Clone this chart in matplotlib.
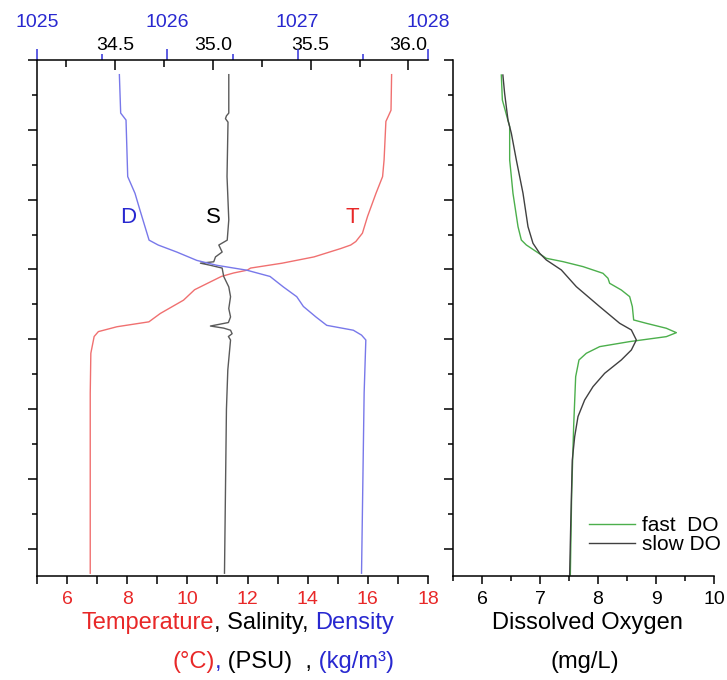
import matplotlib
matplotlib.use("Agg")
import matplotlib.pyplot as plt
from matplotlib.ticker import MultipleLocator, FormatStrFormatter

plt.rcParams['font.family'] = ['Liberation Sans', 'DejaVu Sans']

# --- CTD profile: temperature (degC) vs depth (m)
temp_depth = [2.1, 7.2, 8.8, 14.3, 16.7, 19.1, 22.4, 24.8, 26.0, 26.5, 27.0, 28.2, 29.1,
              29.8, 30.1, 30.5, 31.0, 32.0, 32.9, 34.4, 36.3, 37.5, 38.2, 38.9, 39.6,
              42.0, 47.7, 73.5]
temp = [16.79, 16.77, 16.60, 16.54, 16.49, 16.27, 15.99, 15.82, 15.60, 15.43, 15.10, 14.21,
        13.15, 12.10, 11.99, 11.54, 11.13, 10.66, 10.24, 9.87, 9.10, 8.72, 7.66, 7.04,
        6.90, 6.79, 6.77, 6.77]

# salinity (PSU)
sal_depth = [2.1, 7.6, 8.0, 8.4, 8.9, 16.7, 22.9, 25.8, 26.5, 27.5, 28.2, 28.9, 29.1, 29.4,
             29.8, 31.0, 32.5, 33.9, 35.6, 36.8, 37.6, 38.1, 38.4, 38.7, 39.2, 39.6, 40.1,
             44.4, 50.0, 73.5]
sal = [35.081, 35.081, 35.069, 35.064, 35.077, 35.072, 35.081, 35.073, 35.030, 35.047,
       35.013, 35.004, 34.936, 34.987, 35.047, 35.055, 35.081, 35.090, 35.081, 35.090,
       35.079, 34.987, 35.055, 35.090, 35.098, 35.079, 35.090, 35.076, 35.069, 35.059]

# density (kg/m3)
dens_depth = [2.1, 7.6, 8.6, 16.7, 19.1, 21.5, 23.9, 25.8, 26.5, 27.5, 28.7, 29.4, 30.1,
              31.0, 32.5, 33.9, 35.3, 36.8, 38.0, 38.7, 39.4, 40.1, 47.7, 73.5]
dens = [1025.632, 1025.642, 1025.683, 1025.696, 1025.752, 1025.790, 1025.829, 1025.860,
        1025.930, 1026.072, 1026.226, 1026.379, 1026.609, 1026.788, 1026.890, 1026.993,
        1027.044, 1027.140, 1027.223, 1027.427, 1027.490, 1027.523, 1027.510, 1027.490]

# dissolved oxygen (mg/L), slow sensor
slow_depth = [2.15, 4.77, 8.59, 10.50, 14.32, 19.09, 23.87, 26.25, 27.68, 28.64, 30.07,
              32.46, 35.32, 37.71, 38.66, 40.10, 41.53, 42.96, 44.87, 46.78, 48.69, 51.07,
              53.94, 57.28, 66.83, 73.75]
slow_do = [6.36, 6.39, 6.448, 6.506, 6.592, 6.707, 6.793, 6.879, 6.994, 7.109, 7.368,
           7.626, 8.029, 8.374, 8.575, 8.661, 8.575, 8.402, 8.115, 7.914, 7.770, 7.655,
           7.598, 7.557, 7.529, 7.511]

# dissolved oxygen (mg/L), fast sensor
fast_depth = [2.15, 5.73, 9.55, 14.32, 16.71, 19.09, 23.87, 25.78, 26.49, 27.45, 28.40,
              28.88, 29.59, 30.55, 31.26, 31.98, 32.94, 33.89, 35.32, 37.23, 37.71, 38.42,
              39.05, 39.62, 40.33, 41.05, 42.00, 42.96, 45.35, 52.51, 62.05, 73.75]
fast_do = [6.333, 6.351, 6.477, 6.477, 6.506, 6.534, 6.621, 6.678, 6.764, 6.937, 7.109,
           7.397, 7.741, 8.086, 8.172, 8.201, 8.402, 8.546, 8.592, 8.615, 8.833, 9.178,
           9.351, 9.178, 8.546, 8.029, 7.799, 7.672, 7.615, 7.580, 7.546, 7.523]

RED, BLUE, GREY = '#f07070', '#7878ea', '#5a5a5a'
RED_TXT, BLUE_TXT = '#e82828', '#2828d0'
DEPTH_MAX = 73.9
W, H = 727, 680

fig = plt.figure(figsize=(W / 100, H / 100), dpi=100)


def style_depth_axis(a):
    a.set_ylim(DEPTH_MAX, 0)
    a.yaxis.set_major_locator(MultipleLocator(10))
    a.yaxis.set_minor_locator(MultipleLocator(5))
    a.tick_params(axis='y', which='major', direction='out', length=6.5, width=1.1,
                  labelleft=False)
    a.tick_params(axis='y', which='minor', direction='out', length=3.6, width=1.1)
    for s in ('top', 'right'):
        a.spines[s].set_visible(False)
    for s in ('left', 'bottom'):
        a.spines[s].set_linewidth(1.1)


# ---------------- left panel: T / S / density
ax = fig.add_axes([37 / W, 1 - 576 / H, 391 / W, 516 / H])
ax.plot(temp, temp_depth, color=RED, lw=1)
ax.set_xlim(5, 18)
ax.xaxis.set_major_locator(MultipleLocator(2))
ax.xaxis.set_minor_locator(MultipleLocator(1))
ax.tick_params(axis='x', which='both', direction='out', length=5.8, width=1.1,
               labelsize=14, labelcolor=RED_TXT, pad=5)
style_depth_axis(ax)

ax_s = ax.twiny()
ax_s.plot(sal, sal_depth, color=GREY, lw=1)
ax_s.set_xlim(34.1, 36.1)
ax_s.xaxis.set_major_locator(MultipleLocator(0.5))
ax_s.xaxis.set_minor_locator(MultipleLocator(0.25))
ax_s.xaxis.set_major_formatter(FormatStrFormatter('%.1f'))
ax_s.tick_params(axis='x', which='major', direction='in', length=7, width=1.1,
                 labelsize=14, pad=4)
ax_s.tick_params(axis='x', which='minor', direction='in', length=5, width=1.1)
for s in ax_s.spines.values():
    s.set_visible(False)

ax_d = ax.twiny()
ax_d.plot(dens, dens_depth, color=BLUE, lw=1)
ax_d.set_xlim(1025, 1028)
ax_d.xaxis.set_major_locator(MultipleLocator(1))
ax_d.xaxis.set_minor_locator(MultipleLocator(0.5))
ax_d.tick_params(axis='x', which='major', direction='out', length=8, width=1.1,
                 color='#3030d8', labelcolor=BLUE_TXT, labelsize=14, pad=13)
ax_d.tick_params(axis='x', which='minor', direction='out', length=4, width=1.1,
                 color='#3030d8')
for name, s in ax_d.spines.items():
    s.set_visible(name == 'top')
ax_d.spines['top'].set_linewidth(1.1)
ax.set_ylim(DEPTH_MAX, 0)

ax.text(8.03, 22.5, 'D', color=BLUE_TXT, fontsize=16, ha='center', va='center')
ax.text(10.87, 22.5, 'S', color='black', fontsize=16, ha='center', va='center')
ax.text(15.5, 22.5, 'T', color=RED_TXT, fontsize=16, ha='center', va='center')

# multi-coloured x label, right-aligned; pieces chained right to left
line1 = [('Temperature', RED_TXT), (', Salinity, ', 'black'), ('Density', BLUE_TXT)]
line2 = [('(°C)', RED_TXT), (',', BLUE_TXT), (' (PSU)  ,', 'black'), (' (kg/m³)', BLUE_TXT)]
for parts, y0 in ((line1, 629), (line2, 668)):
    txt, col = parts[-1]
    prev = fig.text(394 / W, 1 - y0 / H, txt, color=col, fontsize=17,
                    ha='right', va='baseline')
    for txt, col in reversed(parts[:-1]):
        prev = ax.annotate(txt, xy=(0, 0), xycoords=prev, va='bottom', ha='right',
                           color=col, fontsize=17, annotation_clip=False)

# ---------------- right panel: dissolved oxygen
ax2 = fig.add_axes([453 / W, 1 - 576 / H, 261 / W, 516 / H])
ax2.plot(fast_do, fast_depth, color='#4caf4c', lw=1, label='fast  DO')
ax2.plot(slow_do, slow_depth, color='#404040', lw=1, label='slow DO')
ax2.set_xlim(5.5, 10)
ax2.xaxis.set_major_locator(MultipleLocator(1))
ax2.xaxis.set_minor_locator(MultipleLocator(0.5))
ax2.tick_params(axis='x', which='major', direction='out', length=5.8, width=1.1,
                labelsize=14, pad=5)
ax2.tick_params(axis='x', which='minor', direction='out', length=3.6, width=1.1)
style_depth_axis(ax2)
ax2.legend(loc='upper left', bbox_to_anchor=(589 / W, 1 - 516 / H),
           bbox_transform=fig.transFigure, frameon=False, fontsize=15,
           borderpad=0, borderaxespad=0, handlelength=2.2, handletextpad=0.35,
           labelspacing=0.0)

fig.text(587 / W, 1 - 629 / H, 'Dissolved Oxygen', fontsize=17, ha='center', va='baseline')
fig.text(585 / W, 1 - 668 / H, '(mg/L)', fontsize=17, ha='center', va='baseline')

fig.savefig('out.png', dpi=100)
